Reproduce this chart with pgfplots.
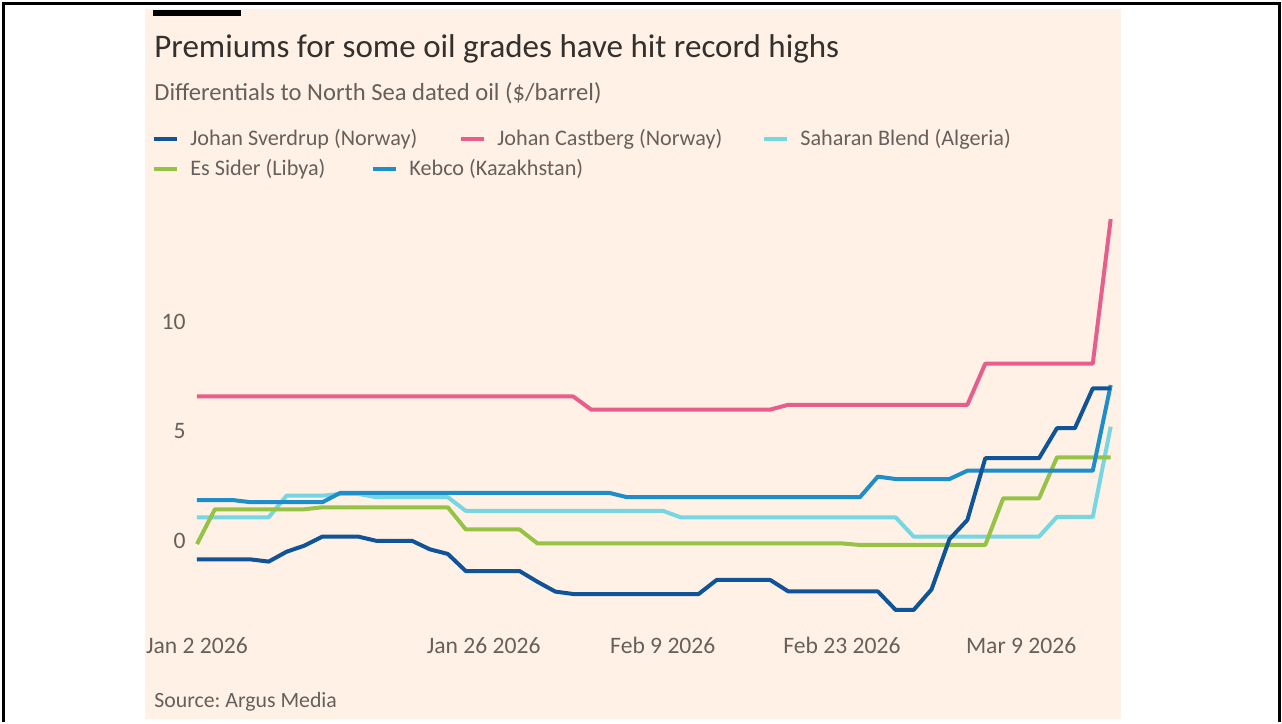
\documentclass[border=0pt]{standalone}
\usepackage{fontspec}
\setmainfont{Carlito}
\usepackage{pgfplots}
\usepackage{pgfplotstable}
\pgfplotsset{compat=1.18}
\frenchspacing

\definecolor{panel}{HTML}{FFF1E5}
\definecolor{ftblack}{HTML}{33302E}
\definecolor{ftgrey}{HTML}{66605C}
\definecolor{sverdrup}{HTML}{0F5499}
\definecolor{castberg}{HTML}{E95D8C}
\definecolor{saharan}{HTML}{76D7E3}
\definecolor{essider}{HTML}{96C346}
\definecolor{kebco}{HTML}{1D8DCB}

% x = business day index from Jan 2 2026
\pgfplotstableread{
d v
0 -0.84
1 -0.84
2 -0.84
3 -0.84
4 -0.94
5 -0.49
6 -0.21
7 0.20
8 0.20
9 0.20
10 0.01
11 0.01
12 0.01
13 -0.38
14 -0.59
15 -1.37
16 -1.37
17 -1.37
18 -1.37
19 -1.86
20 -2.31
21 -2.42
22 -2.42
23 -2.42
24 -2.42
25 -2.42
26 -2.42
27 -2.42
28 -2.42
29 -1.78
30 -1.78
31 -1.78
32 -1.78
33 -2.30
34 -2.30
35 -2.30
36 -2.30
37 -2.30
38 -2.30
39 -3.15
40 -3.15
41 -2.21
42 0.08
43 0.96
44 3.78
45 3.78
46 3.78
47 3.78
48 5.15
49 5.15
50 6.97
51 6.97
}\sverdrupdata

\pgfplotstableread{
d v
0 6.60
21 6.60
22 6.00
32 6.00
33 6.22
43 6.22
44 8.10
50 8.10
51 14.70
}\castbergdata

\pgfplotstableread{
d v
0 1.08
4 1.08
5 2.07
7 2.07
8 2.15
9 2.15
10 2.00
14 2.00
15 1.38
26 1.38
27 1.08
39 1.08
40 0.20
47 0.20
48 1.10
50 1.10
51 5.22
}\saharandata

\pgfplotstableread{
d v
0 -0.14
1 1.45
6 1.45
7 1.54
14 1.54
15 0.53
18 0.53
19 -0.11
36 -0.11
37 -0.18
44 -0.18
45 1.95
47 1.95
48 3.82
51 3.82
}\essiderdata

\pgfplotstableread{
d v
0 1.87
2 1.87
3 1.77
7 1.77
8 2.20
23 2.20
24 2.00
37 2.00
38 2.94
39 2.83
42 2.83
43 3.21
50 3.21
51 7.12
}\kebcodata

\newcommand\legfont{\fontsize{11.1pt}{13pt}\selectfont}
\newcommand\tickfont{\fontsize{11.8pt}{14pt}\selectfont}

\begin{document}
\begin{tikzpicture}
\begin{scope}[x=0.5pt,y=-0.5pt]
  \fill[white] (0,0) rectangle (1282,719);
  \fill[panel] (145,9) rectangle (1121,719);
  \draw[black, line width=1.5pt] (3.5,722) -- (3.5,3.5) -- (1279.5,3.5) -- (1279.5,722);
  \fill[black] (153,9.5) rectangle (241,16);
  \node[anchor=base west, inner sep=0pt, text=ftblack] at (154,57)
    {\fontsize{16.5pt}{20pt}\selectfont Premiums for some oil grades have hit record highs};
  \node[anchor=base west, inner sep=0pt, text=ftgrey] at (154,100)
    {\fontsize{12.3pt}{14pt}\selectfont Differentials to North Sea dated oil (\$/barrel)};
  % legend
  \foreach \c/\x/\y/\t in {sverdrup/154/139/Johan Sverdrup (Norway),
                          castberg/461/139/Johan Castberg (Norway),
                          saharan/764/139/Saharan Blend (Algeria),
                          essider/154/169/Es Sider (Libya),
                          kebco/373/169/Kebco (Kazakhstan)}{
    \draw[\c, line width=2pt] (\x,\y) -- ++(23,0);
    \node[anchor=west, inner sep=0pt, text=ftgrey] at (\x+36,\y) {\legfont \t};
  }
  \node[anchor=base west, inner sep=0pt, text=ftgrey] at (154,707)
    {\fontsize{10.9pt}{13pt}\selectfont Source: Argus Media};
\end{scope}

\begin{axis}[
    at={(98.5pt,-314.3pt)}, anchor=south west,
    scale only axis,
    width=456.85pt, height=208.05pt,
    xmin=0, xmax=51, ymin=-4, ymax=15,
    clip=false,
    axis line style={draw=none},
    major tick length=0pt,
    xtick={0,16,26,36,46},
    xticklabels={Jan 2 2026, Jan 26 2026, Feb 9 2026, Feb 23 2026, Mar 9 2026},
    ytick={0,5,10},
    /pgf/number format/assume math mode=true,
    ticklabel style={font=\tickfont, text=ftgrey, inner sep=0pt},
    xticklabel style={anchor=base, yshift=-12.5pt},
    yticklabel style={anchor=east, xshift=-5.5pt},
    every axis plot/.append style={line width=2pt, line join=round},
]
\addplot[castberg] table[x=d, y=v] {\castbergdata};
\addplot[saharan] table[x=d, y=v] {\saharandata};
\addplot[essider] table[x=d, y=v] {\essiderdata};
\addplot[kebco] table[x=d, y=v] {\kebcodata};
\addplot[sverdrup] table[x=d, y=v] {\sverdrupdata};
\end{axis}
\end{tikzpicture}
\end{document}
